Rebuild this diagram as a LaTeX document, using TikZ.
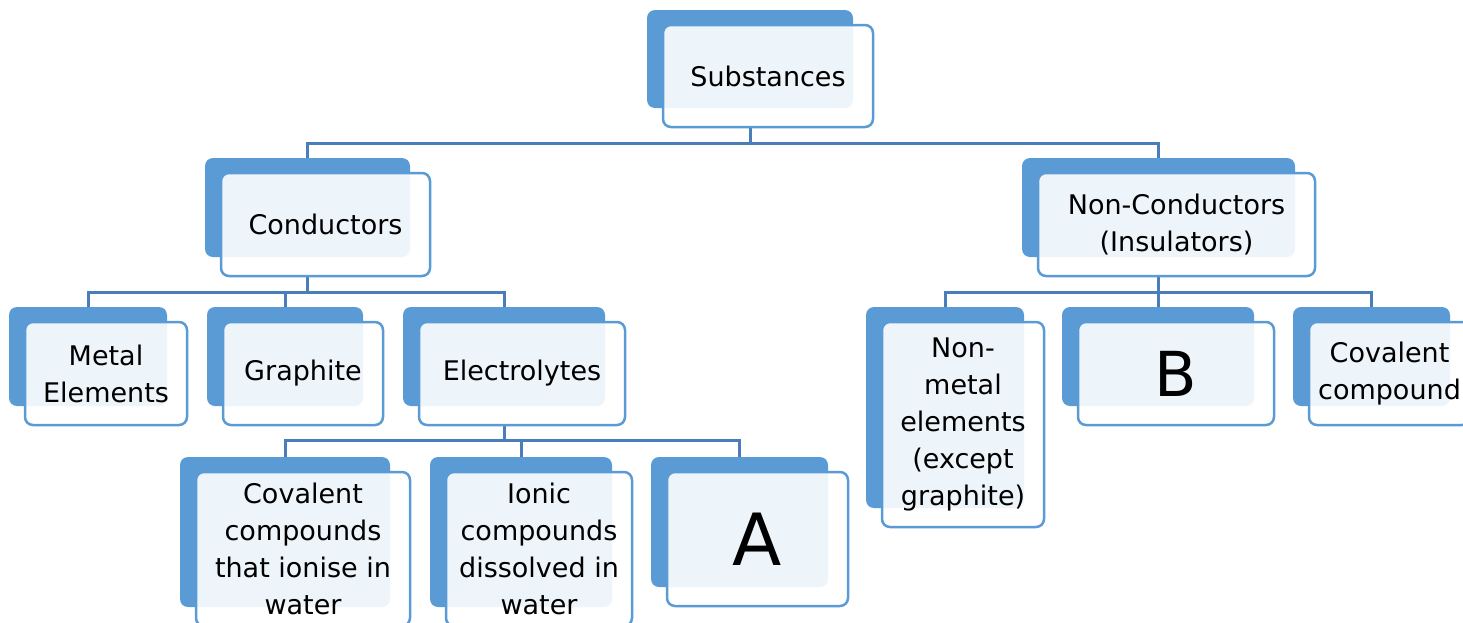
\documentclass[tikz,border=0pt]{standalone}
\usepackage{fontspec}
\setmainfont{DejaVu Sans}
\usetikzlibrary{backgrounds}
\definecolor{boxblue}{HTML}{5B9BD5}
\definecolor{linkblue}{HTML}{4A7EBB}
\begin{document}
\begin{tikzpicture}[x=1pt, y=-1pt,
    back/.style={fill=boxblue, rounded corners=8pt, inner sep=0pt},
    front/.style={draw=boxblue, line width=2.5pt, fill=white, fill opacity=0.9, text opacity=1,
        rounded corners=8pt, inner sep=0pt, align=center, font=\fontsize{27}{37}\selectfont},
    link/.style={draw=linkblue, line width=3pt}]
    \useasboundingbox (0,0) rectangle (1463,622);

    % Top level
    \node[back, minimum width=206pt, minimum height=98pt] (subs) at (750,59) {};
    \node[front, minimum width=210pt, minimum height=102pt] (subsF) at (768,76) {Substances};

    % Second level
    \node[back, minimum width=205pt, minimum height=99pt] (cond) at (307.5,207.5) {};
    \node[front, minimum width=209pt, minimum height=103pt] (condF) at (325.5,224.5) {Conductors};
    \node[back, minimum width=273pt, minimum height=99pt] (noncond) at (1158.5,207.5) {};
    \node[front, minimum width=277pt, minimum height=103pt] (noncondF) at (1176.5,224.5) {Non-Conductors\\(Insulators)};

    % Third level, conductors
    \node[back, minimum width=158pt, minimum height=99pt] (metal) at (88,356.5) {};
    \node[front, minimum width=162pt, minimum height=103pt] (metalF) at (106,373.5) {Metal\\Elements};
    \node[back, minimum width=156pt, minimum height=99pt] (graph) at (285,356.5) {};
    \node[front, minimum width=160pt, minimum height=103pt] (graphF) at (303,373.5) {Graphite};
    \node[back, minimum width=202pt, minimum height=99pt] (elec) at (504,356.5) {};
    \node[front, minimum width=206pt, minimum height=103pt] (elecF) at (522,373.5) {Electrolytes};

    % Third level, non-conductors
    \node[back, minimum width=158pt, minimum height=201pt] (nonmet) at (945,407.5) {};
    \node[front, minimum width=162pt, minimum height=205pt] (nonmetF) at (963,424.5) {Non-\\metal\\elements\\(except\\graphite)};
    \node[back, minimum width=192pt, minimum height=99pt] (boxB) at (1158,356.5) {};
    \node[front, minimum width=196pt, minimum height=103pt, font=\fontsize{62}{62}\selectfont] (boxBF) at (1176,373.5) {B};
    \node[back, minimum width=157pt, minimum height=99pt] (covcomp) at (1371.5,356.5) {};
    \node[front, minimum width=161pt, minimum height=103pt] (covcompF) at (1389.5,373.5) {Covalent\\compound};

    % Fourth level, electrolytes
    \node[back, minimum width=210pt, minimum height=150pt] (covion) at (285,532) {};
    \node[front, minimum width=214pt, minimum height=154pt] (covionF) at (303,549) {Covalent\\compounds\\that ionise in\\water};
    \node[back, minimum width=182pt, minimum height=150pt] (ionic) at (521,532) {};
    \node[front, minimum width=186pt, minimum height=154pt] (ionicF) at (539,549) {Ionic\\compounds\\dissolved in\\water};
    \node[back, minimum width=177pt, minimum height=130pt] (boxA) at (739.5,522) {};
    \node[front, minimum width=181pt, minimum height=134pt, font=\fontsize{72}{72}\selectfont] (boxAF) at (757.5,539) {A};

    % Connectors
    \begin{scope}[on background layer]
        \foreach \c in {cond,noncond} {
            \draw[link] (subs |- subsF.south) -- ++(0,15.5) -| (\c.north);
        }
        \foreach \c in {metal,graph,elec} {
            \draw[link] (cond |- condF.south) -- ++(0,15) -| (\c.north);
        }
        \foreach \c in {nonmet,boxB,covcomp} {
            \draw[link] (noncond |- noncondF.south) -- ++(0,15) -| (\c.north);
        }
        \foreach \c in {covion,ionic,boxA} {
            \draw[link] (elec |- elecF.south) -- ++(0,14) -| (\c.north);
        }
    \end{scope}
\end{tikzpicture}
\end{document}
